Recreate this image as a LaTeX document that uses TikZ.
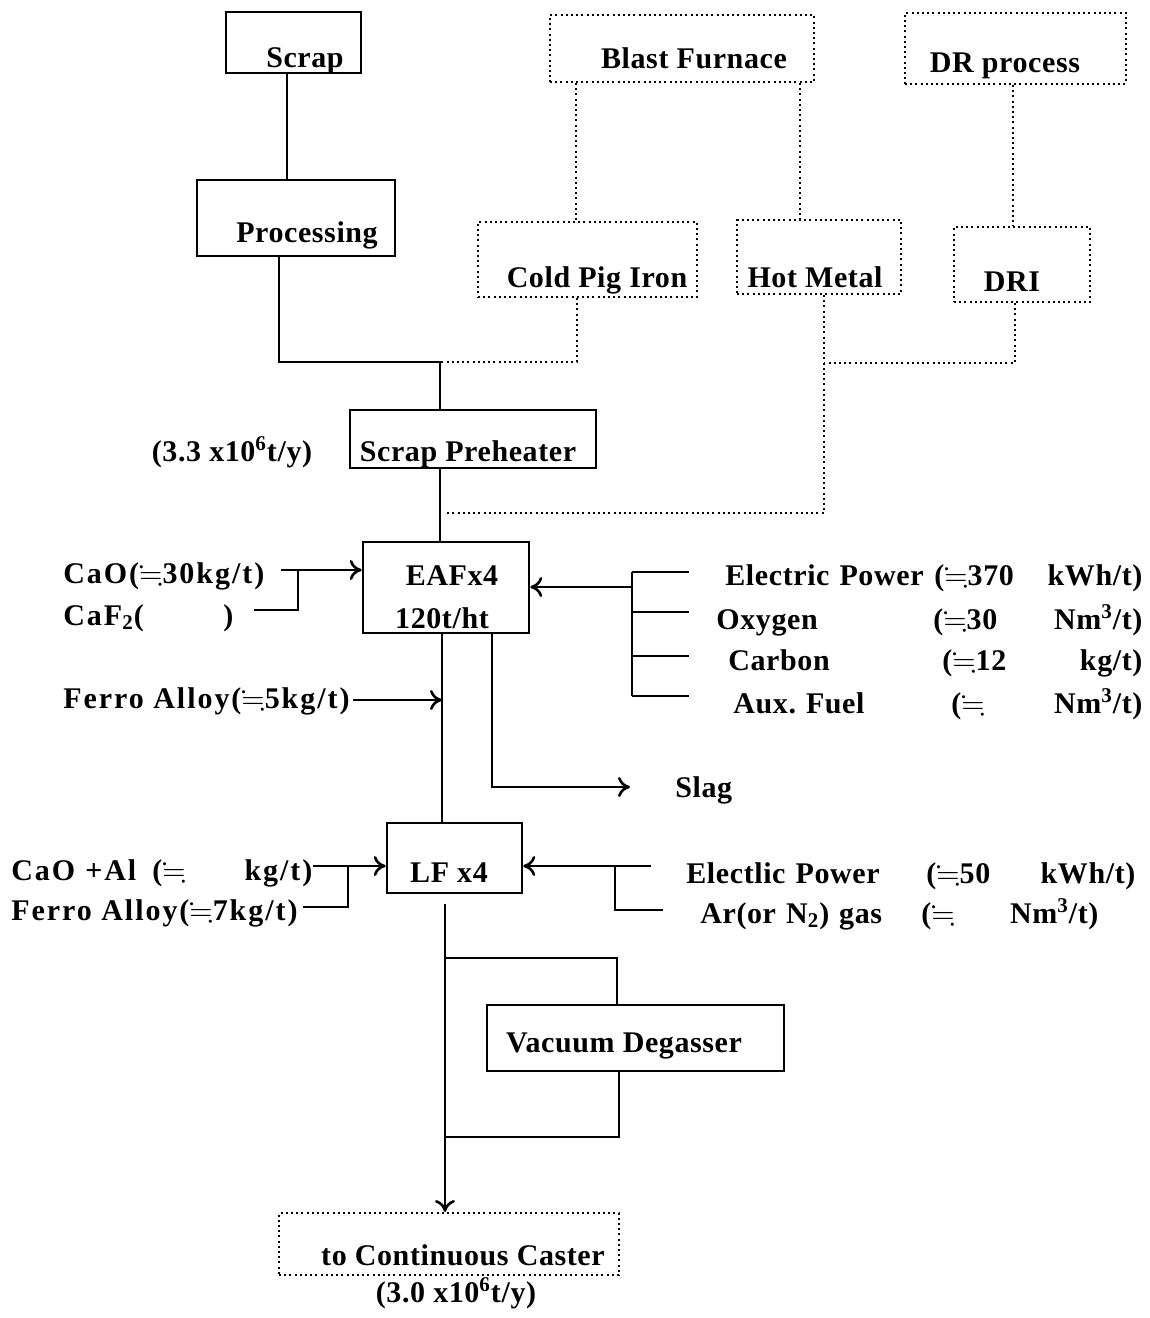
\documentclass[tikz,border=0pt]{standalone}
\usepackage{amssymb}
\usepackage{fontspec}
\setmainfont{Liberation Serif}[LetterSpace=2]
\usetikzlibrary{arrows.meta}

\newcommand{\nearly}{$\fallingdotseq$}

\tikzset{
  solidbox/.style={draw, line width=1.3pt, inner sep=0pt},
  dotbox/.style={draw, line width=1pt, dash pattern=on 1pt off 1.6pt, inner sep=0pt},
  txt/.style={font=\fontsize{15}{17}\selectfont\bfseries, inner sep=0pt},
  widetxt/.style={txt, font=\fontsize{15}{17}\selectfont\bfseries\addfontfeature{LetterSpace=6.5}},
  pipe/.style={line width=1.3pt},
  dotpipe/.style={line width=1pt, dash pattern=on 1pt off 1.6pt},
  feed/.style={pipe, -{Computer Modern Rightarrow[length=6pt,width=10pt]}},
}

\begin{document}
\begin{tikzpicture}[x=0.5pt,y=-0.5pt]
  \useasboundingbox (0,0) rectangle (1150,1318);

  % units
  \node[solidbox, minimum width=67.5pt, minimum height=30.5pt] (scrap) at (293.5,42.5) {};
  \node[solidbox, minimum width=99pt, minimum height=38pt] (proc) at (296,218) {};
  \node[dotbox, minimum width=132pt, minimum height=33.5pt] (bf) at (682,48.5) {};
  \node[dotbox, minimum width=110.5pt, minimum height=35.5pt] (dr) at (1015.5,48.5) {};
  \node[dotbox, minimum width=109.5pt, minimum height=37.5pt] (cpi) at (587.5,259.5) {};
  \node[dotbox, minimum width=82pt, minimum height=37pt] (hm) at (819,257) {};
  \node[dotbox, minimum width=68pt, minimum height=37.5pt] (dri) at (1022,264.5) {};
  \node[solidbox, minimum width=123pt, minimum height=29pt] (pre) at (473,439) {};
  \node[solidbox, minimum width=83pt, minimum height=45.5pt] (eaf) at (446,587.5) {};
  \node[solidbox, minimum width=67.5pt, minimum height=35pt] (lf) at (454.5,858) {};
  \node[solidbox, minimum width=148.5pt, minimum height=33pt] (vd) at (635.5,1038) {};
  \node[dotbox, minimum width=170pt, minimum height=31pt] (cc) at (449,1244) {};

  % unit labels
  \node[txt, anchor=base] (scrap-l) at (305,67) {Scrap};
  \node[txt, anchor=base] (proc-l) at (307,242) {Processing};
  \node[txt, anchor=base] (bf-l) at (694,68) {Blast Furnace};
  \node[txt, anchor=base] (dr-l) at (1005,72) {DR process};
  \node[txt, anchor=base] (cpi-l) at (597,287) {Cold Pig Iron};
  \node[txt, anchor=base] (hm-l) at (815,287) {Hot Metal};
  \node[txt, anchor=base] (dri-l) at (1012,291) {DRI};
  \node[txt, anchor=base] (pre-l) at (468,461) {Scrap Preheater};
  \node[txt, anchor=base] (pre-q) at (232,461) {(3.3 x10\textsuperscript{6}t/y)};
  \node[txt, anchor=base] (eaf-l) at (452,585) {EAFx4};
  \node[txt, anchor=base] (eaf-q) at (442,628) {120t/ht};
  \node[txt, anchor=base] (lf-l) at (449,882) {LF x4};
  \node[txt, anchor=base] (vd-l) at (624,1052) {Vacuum Degasser};
  \node[txt, anchor=base] (cc-l) at (463,1265) {to Continuous Caster};
  \node[txt, anchor=base] (cc-q) at (456,1302) {(3.0 x10\textsuperscript{6}t/y)};

  % additions
  \node[widetxt, anchor=base west] (cao) at (63,583) {CaO(\nearly30kg/t)};
  \node[widetxt, anchor=base west] (caf) at (63,625) {\makebox[85pt][l]{CaF\textsubscript{2}(\hfill)}};
  \node[widetxt, anchor=base west] (fa1) at (63,708) {Ferro Alloy(\nearly5kg/t)};
  \node[txt, anchor=base west] (slag) at (675,797) {Slag};
  \node[txt, anchor=base west, align=left, text width=208.5pt] (ep1) at (725,585)
    {Electric Power\hfill\makebox[104pt]{(\nearly370\hfill kWh/t)}};
  \node[txt, anchor=base west, align=left, text width=213pt] (oxy) at (716,629)
    {Oxygen\hfill\makebox[104.5pt]{(\nearly30\hfill Nm\textsuperscript{3}/t)}};
  \node[txt, anchor=base west, align=left, text width=207pt] (carb) at (728,670)
    {Carbon\hfill\makebox[100pt]{(\nearly12\hfill kg/t)}};
  \node[txt, anchor=base west, align=left, text width=204.5pt] (aux) at (733,713)
    {Aux.\ Fuel\hfill\makebox[95.5pt]{(\nearly\hfill Nm\textsuperscript{3}/t)}};
  \node[widetxt, anchor=base west, align=left, text width=150.5pt] (cal) at (11,880)
    {CaO +Al\hfill\makebox[80pt]{(\nearly\hfill kg/t)}};
  \node[widetxt, anchor=base west] (fa2) at (11,920) {Ferro Alloy(\nearly7kg/t)};
  \node[txt, anchor=base west, align=left, text width=224.5pt] (ep2) at (686,883)
    {Electlic Power\hfill\makebox[104.5pt]{(\nearly50\hfill kWh/t)}};
  \node[txt, anchor=base west, align=left, text width=199pt] (gas) at (700,923)
    {Ar(or N\textsubscript{2}) gas\hfill\makebox[88.5pt]{(\nearly\hfill Nm\textsuperscript{3}/t)}};

  % junctions
  \coordinate (jpre) at (440,362);
  \coordinate (jhot) at (447,513);
  \coordinate (jdri) at (824,363);
  \coordinate (jcao) at (298,570);
  \coordinate (cao-e) at (281,570);
  \coordinate (caf-e) at (254,610);
  \coordinate (brin) at (632,587);
  \coordinate (fa1-e) at (353,700);
  \coordinate (jfa) at (442,700);
  \coordinate (jslag) at (492,787);
  \coordinate (jlfl) at (348,866);
  \coordinate (fa2-e) at (303,907);
  \coordinate (jfa2) at (348,907);
  \coordinate (jlfr) at (615,866);
  \coordinate (lfr-top) at (651,866);
  \coordinate (lfr-bot) at (663,910);
  \coordinate (jvd1) at (445,958);
  \coordinate (jvd2) at (445,1137);

  % scrap route
  \draw[pipe] ([xshift=-3.25pt]scrap.south) -- ([xshift=-3.25pt]scrap.south |- proc.north);
  \draw[pipe] ([xshift=-8.5pt]proc.south) |- (jpre) -- (jpre |- pre.north);
  \draw[pipe] (jpre |- pre.south) -- (jpre |- eaf.north);

  % iron sources
  \draw[dotpipe] ([xshift=-53pt]bf.south) -- ([xshift=-53pt]bf.south |- cpi.north);
  \draw[dotpipe] ([xshift=59pt]bf.south) -- ([xshift=59pt]bf.south |- hm.north);
  \draw[dotpipe] ([xshift=-1.25pt]dr.south) -- ([xshift=-1.25pt]dr.south |- dri.north);
  \draw[dotpipe] ([xshift=-5.25pt]cpi.south) |- (jpre);
  \draw[dotpipe] ([xshift=2.5pt]hm.south) |- (jhot);
  \draw[dotpipe] ([xshift=-3.5pt]dri.south) |- (jdri);

  % EAF inputs
  \draw[feed] (cao-e) -- (cao-e -| eaf.west);
  \draw[pipe] (caf-e) -| (jcao);
  \draw[pipe] (632,572) -- (632,696);
  \foreach \y in {572,612,656,696}
    \draw[pipe] (632,\y) -- (689,\y);
  \draw[feed] (brin) -- (brin -| eaf.east);
  \draw[feed] (fa1-e) -- (jfa);

  % EAF outputs
  \draw[pipe] (jfa |- eaf.south) -- (jfa |- lf.north);
  \draw[feed] (jslag |- eaf.south) -- (jslag) -- ([xshift=-22.5pt]jslag -| slag.west);

  % LF
  \draw[feed] (cal.east |- jlfl) -- (jlfl -| lf.west);
  \draw[pipe] (fa2-e) -- (jfa2) -- (jlfl);
  \draw[feed] (lfr-top) -- (lfr-top -| lf.east);
  \draw[pipe] (jlfr) |- (lfr-bot);

  % degasser bypass and caster
  \draw[feed] ([yshift=-5pt]lf.south -| jvd1) -- (jvd1 |- cc.north);
  \draw[pipe] (jvd1) -| ([xshift=-9.25pt]vd.north);
  \draw[pipe] ([xshift=-8.25pt]vd.south) |- (jvd2);
\end{tikzpicture}
\end{document}
